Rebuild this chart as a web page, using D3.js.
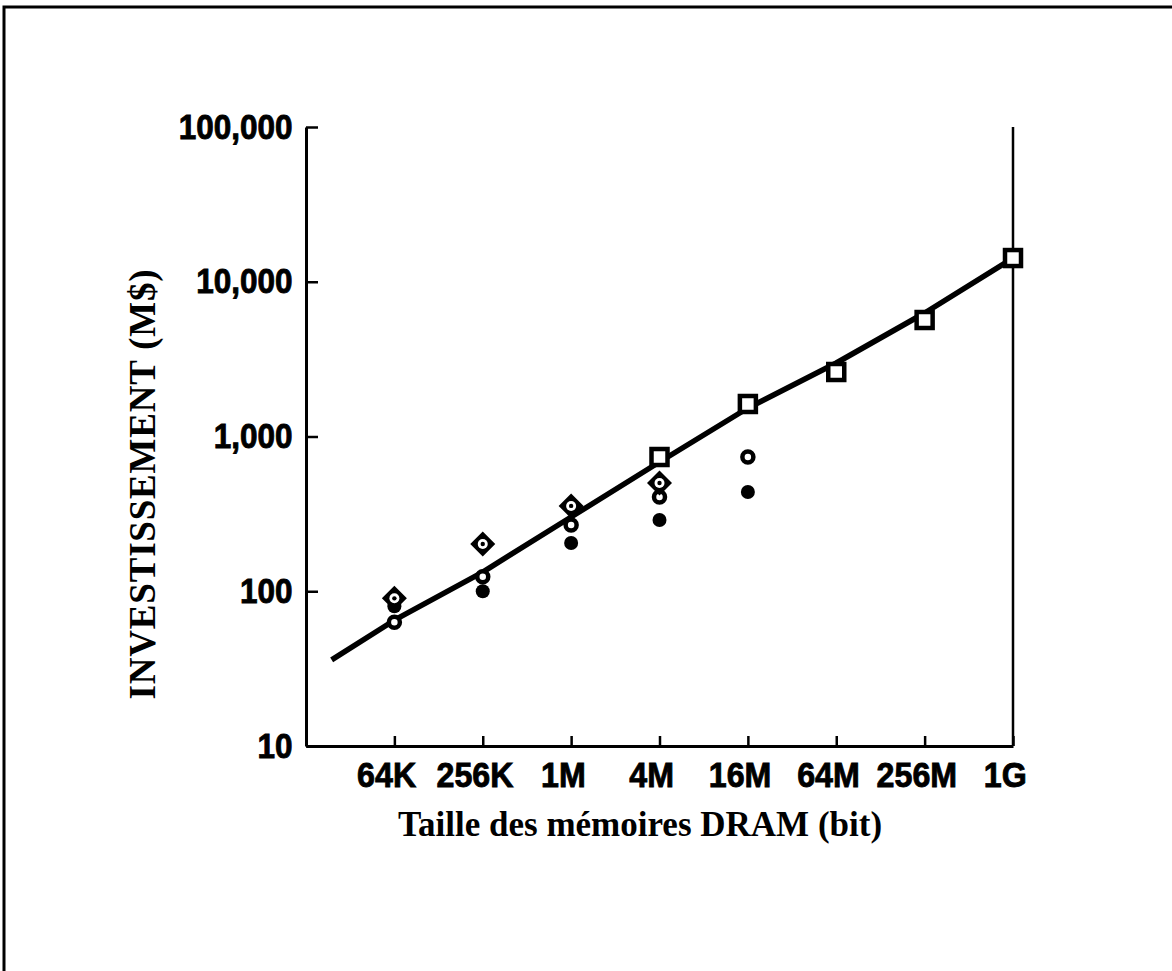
<!DOCTYPE html>
<html>
<head>
<meta charset="utf-8">
<script src="https://cdnjs.cloudflare.com/ajax/libs/d3/7.8.5/d3.min.js"></script>
<style>
  html, body { margin: 0; padding: 0; background: #fff; }
  svg { display: block; }
</style>
</head>
<body>
<svg id="chart" width="1172" height="971"></svg>
<script>
// ---- data ----
const sizeLabels = ["64K", "256K", "1M", "4M", "16M", "64M", "256M", "1G"];
const sizeBits = [65536, 262144, 1048576, 4194304, 16777216, 67108864, 268435456, 1073741824];
const yTickValues = [10, 100, 1000, 10000, 100000];
const yTickLabels = ["10", "100", "1,000", "10,000", "100,000"];

// series (M$), keyed by sizeLabels
const diamondSizes = ["64K", "256K", "1M", "4M"];
const diamondValues = [90, 202, 356, 501];
const openCircleSizes = ["64K", "256K", "1M", "4M", "16M"];
const openCircleValues = [63, 124, 268, 406, 737];
const filledCircleSizes = ["64K", "256K", "1M", "4M", "16M"];
const filledCircleValues = [80, 100, 205, 289, 438];
const squareSizes = ["4M", "16M", "64M", "256M", "1G"];
const squareValues = [737, 1622, 2611, 5660, 14230];

// trend line
const trendBits = [24500, 65536, 262144, 1048576, 4194304, 16777216, 67108864, 268435456, 1073741824];
const trendValues = [36, 65, 133, 302, 684, 1528, 2985, 6280, 14230];

const xTitle = "Taille des mémoires DRAM (bit)";
const yTitle = "INVESTISSEMENT (M$)";

// ---- layout ----
(function () {
const svg = d3.select("#chart");
const pL = 306, pR = 1013, pT = 127, pB = 746;
const bitsOf = s => sizeBits[sizeLabels.indexOf(s)];

const x = d3.scaleLog().base(2).domain([16384, 1073741824]).range([pL, pR]);
const y = d3.scaleLog().domain([10, 100000]).range([pB, pT]);

// outer frame
svg.append("rect").attr("x", 4).attr("y", 7).attr("width", 1200).attr("height", 1000)
  .attr("fill", "none").attr("stroke", "#000").attr("stroke-width", 3);

const labelFont = "'Liberation Sans', Arial, Helvetica, sans-serif";

// axes
const yAxis = d3.axisLeft(y).tickValues(yTickValues).tickSizeInner(-12).tickSizeOuter(0)
  .tickFormat((d, i) => yTickLabels[i]).tickPadding(13);
const gy = svg.append("g").attr("transform", `translate(${pL},0)`).call(yAxis);
gy.select(".domain").attr("stroke-width", 3).attr("stroke", "#000");
gy.selectAll(".tick line").attr("stroke-width", 2.5);
gy.selectAll(".tick text")
  .attr("font-family", labelFont)
  .attr("font-weight", "bold").attr("font-size", 35).attr("fill", "#000")
  .attr("x", -15).attr("transform", "scale(0.9,1)")
  .attr("stroke", "#000").attr("stroke-width", 0.9);

const xAxis = d3.axisBottom(x).tickValues(sizeBits).tickSizeInner(-10).tickSizeOuter(0)
  .tickFormat((d, i) => sizeLabels[i]).tickPadding(14);
const gx = svg.append("g").attr("transform", `translate(0,${pB})`).call(xAxis);
gx.select(".domain").attr("stroke-width", 3).attr("stroke", "#000");
gx.selectAll(".tick line").attr("stroke-width", 2.5);
gx.selectAll(".tick text")
  .attr("font-family", labelFont)
  .attr("font-weight", "bold").attr("font-size", 35).attr("fill", "#000")
  .attr("transform", "scale(0.92,1)")
  .attr("y", 16).attr("dx", -9).attr("dy", "0.71em").attr("stroke", "#000").attr("stroke-width", 0.9);

// right axis line
svg.append("line").attr("x1", pR).attr("x2", pR).attr("y1", pT).attr("y2", pB)
  .attr("stroke", "#000").attr("stroke-width", 2.5);

// trend line
const line = d3.line().x(d => x(d[0])).y(d => y(d[1]));
svg.append("path").datum(trendBits.map((b, i) => [b, trendValues[i]]))
  .attr("d", line).attr("fill", "none").attr("stroke", "#000").attr("stroke-width", 5.5)
  .attr("stroke-linejoin", "round");

// markers
const gm = svg.append("g");
gm.selectAll(".fc").data(filledCircleSizes.map((s, i) => [bitsOf(s), filledCircleValues[i]]))
  .join("circle").attr("class", "fc").attr("cx", d => x(d[0])).attr("cy", d => y(d[1])).attr("r", 7).attr("fill", "#000");
gm.selectAll(".oc").data(openCircleSizes.map((s, i) => [bitsOf(s), openCircleValues[i]]))
  .join("circle").attr("class", "oc").attr("cx", d => x(d[0])).attr("cy", d => y(d[1])).attr("r", 5.5)
  .attr("fill", "#fff").attr("stroke", "#000").attr("stroke-width", 4.5);
const dg = gm.selectAll(".dm").data(diamondSizes.map((s, i) => [bitsOf(s), diamondValues[i]]))
  .join("g").attr("class", "dm").attr("transform", d => `translate(${x(d[0])},${y(d[1])})`);
dg.append("path").attr("d", "M0,-12.5L12.5,0L0,12.5L-12.5,0Z").attr("fill", "#000");
dg.append("circle").attr("r", 5).attr("fill", "#fff");
dg.append("circle").attr("r", 2.2).attr("fill", "#000");
gm.selectAll(".sq").data(squareSizes.map((s, i) => [bitsOf(s), squareValues[i]]))
  .join("rect").attr("class", "sq").attr("x", d => x(d[0]) - 8).attr("y", d => y(d[1]) - 8)
  .attr("width", 16).attr("height", 16)
  .attr("fill", "#fff").attr("stroke", "#000").attr("stroke-width", 4.5);

// titles
const titleFont = "'Liberation Serif', 'Times New Roman', Times, serif";
svg.append("text").attr("x", 640).attr("y", 836).attr("text-anchor", "middle")
  .attr("font-family", titleFont)
  .attr("font-weight", "bold").attr("font-size", 35).text(xTitle);
svg.append("text").attr("transform", "translate(155,484) rotate(-90)").attr("text-anchor", "middle")
  .attr("font-family", titleFont).attr("letter-spacing", 0.8)
  .attr("font-weight", "bold").attr("font-size", 37).text(yTitle);
})();
</script>
</body>
</html>
